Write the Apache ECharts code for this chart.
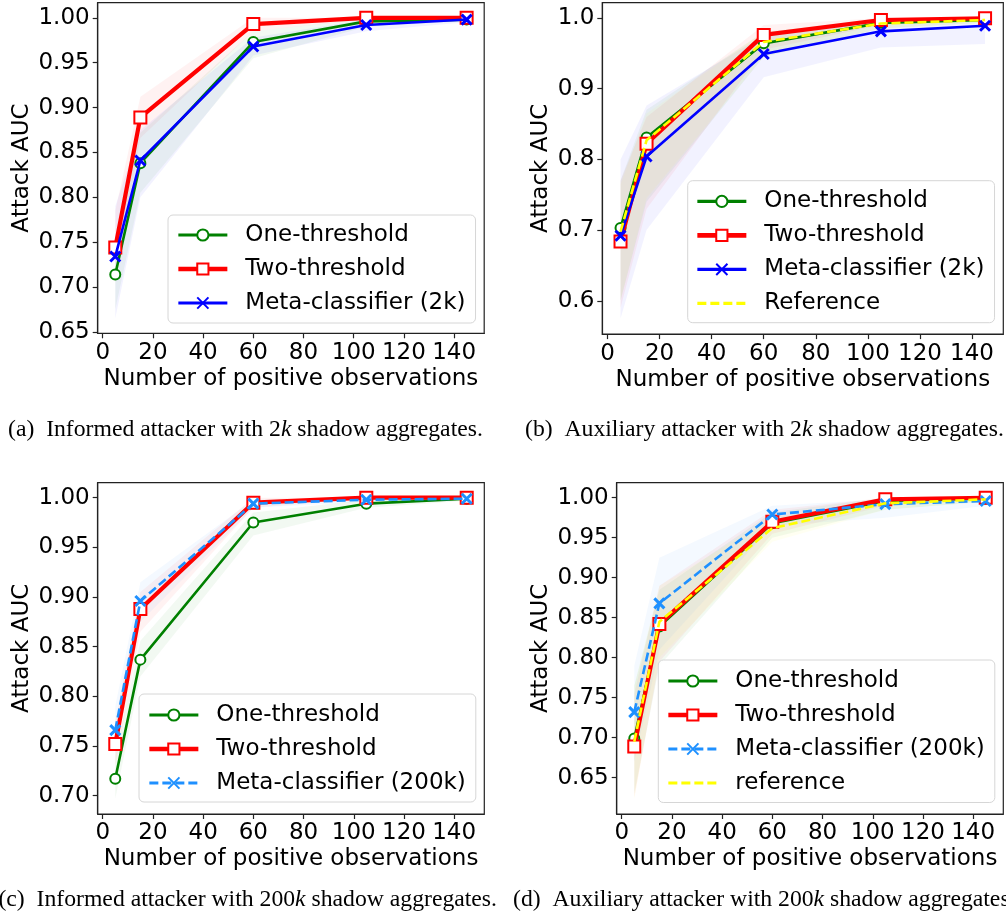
<!DOCTYPE html>
<html><head><meta charset="utf-8">
<script src="https://cdn.jsdelivr.net/npm/echarts@6/dist/echarts.min.js"></script>
<style>html,body{margin:0;padding:0;background:#fff}#c{width:1006px;height:921px}</style>
</head><body><div id="c"></div><script>
// ---------- data ----------
const xObs = [5, 15, 60, 105, 145];
const xTickValues = [0, 20, 40, 60, 80, 100, 120, 140];
const yTicks005a = [0.65, 0.70, 0.75, 0.80, 0.85, 0.90, 0.95, 1.00];
const yTicks01b = [0.6, 0.7, 0.8, 0.9, 1.0];
const yTicks005c = [0.70, 0.75, 0.80, 0.85, 0.90, 0.95, 1.00];
const yTicks005d = [0.65, 0.70, 0.75, 0.80, 0.85, 0.90, 0.95, 1.00];

// (a) informed, 2k
const aOne = [0.714, 0.838, 0.973, 0.996, 0.998];
const aOneLo = [0.675, 0.805, 0.955, 0.990, 0.996];
const aOneHi = [0.755, 0.872, 0.985, 0.999, 1.000];
const aTwo = [0.744, 0.889, 0.993, 1.000, 1.000];
const aTwoLo = [0.705, 0.866, 0.985, 0.998, 0.999];
const aTwoHi = [0.785, 0.912, 1.000, 1.000, 1.000];
const aMeta = [0.734, 0.841, 0.968, 0.992, 0.998];
const aMetaLo = [0.665, 0.800, 0.958, 0.985, 0.995];
const aMetaHi = [0.790, 0.875, 0.978, 0.998, 1.000];

// (b) auxiliary, 2k
const bOne = [0.703, 0.831, 0.964, 0.993, 0.997];
const bOneLo = [0.600, 0.740, 0.945, 0.985, 0.993];
const bOneHi = [0.770, 0.870, 0.980, 0.998, 1.000];
const bTwo = [0.684, 0.822, 0.976, 0.997, 0.9995];
const bTwoLo = [0.590, 0.730, 0.955, 0.990, 0.997];
const bTwoHi = [0.770, 0.860, 0.990, 1.000, 1.000];
const bMeta = [0.692, 0.804, 0.949, 0.981, 0.989];
const bMetaLo = [0.575, 0.700, 0.916, 0.958, 0.963];
const bMetaHi = [0.800, 0.876, 0.975, 0.995, 1.000];
const bRef = [0.698, 0.827, 0.966, 0.992, 0.997];
const bRefLo = [0.600, 0.745, 0.945, 0.985, 0.993];
const bRefHi = [0.765, 0.865, 0.980, 0.998, 1.000];

// (c) informed, 200k
const cOne = [0.717, 0.837, 0.975, 0.994, 0.999];
const cOneLo = [0.697, 0.820, 0.962, 0.990, 0.997];
const cOneHi = [0.740, 0.856, 0.985, 0.998, 1.000];
const cTwo = [0.752, 0.888, 0.995, 1.000, 1.000];
const cTwoLo = [0.730, 0.865, 0.990, 0.999, 1.000];
const cTwoHi = [0.775, 0.905, 1.000, 1.000, 1.000];
const cMeta = [0.766, 0.896, 0.994, 0.998, 0.999];
const cMetaLo = [0.740, 0.875, 0.990, 0.996, 0.998];
const cMetaHi = [0.790, 0.915, 0.998, 1.000, 1.000];

// (d) auxiliary, 200k
const dOne = [0.699, 0.839, 0.968, 0.996, 0.999];
const dOneLo = [0.630, 0.790, 0.950, 0.985, 0.995];
const dOneHi = [0.765, 0.885, 0.982, 1.000, 1.000];
const dTwo = [0.689, 0.842, 0.970, 0.998, 1.000];
const dTwoLo = [0.625, 0.795, 0.955, 0.990, 0.998];
const dTwoHi = [0.755, 0.890, 0.985, 1.000, 1.000];
const dMeta = [0.732, 0.868, 0.979, 0.992, 0.996];
const dMetaLo = [0.670, 0.810, 0.965, 0.975, 0.990];
const dMetaHi = [0.790, 0.925, 0.990, 0.998, 1.000];
const dRef = [0.695, 0.845, 0.962, 0.993, 0.998];
const dRefLo = [0.623, 0.800, 0.945, 0.985, 0.995];
const dRefHi = [0.765, 0.890, 0.975, 0.998, 1.000];

const captions = [
  '(a)  Informed attacker with 2{k|k} shadow aggregates.',
  '(b)  Auxiliary attacker with 2{k|k} shadow aggregates.',
  '(c)  Informed attacker with 200{k|k} shadow aggregates.',
  '(d)  Auxiliary attacker with 200{k|k} shadow aggregates.'
];

// ---------- styles ----------
const FONT = 'DejaVu Sans';
const SERIF = 'Liberation Serif';
const XPATH = 'path://M0,0L10,10M0,10L10,0';
const STY = {
  one:  {color: '#008000', width: 2.6, symbol: 'emptyCircle', size: 10, bw: 2.4, type: 'solid'},
  two:  {color: '#ff0000', width: 4.2, symbol: 'emptyRect', size: 12, bw: 2.6, type: 'solid'},
  m2k:  {color: '#0000ff', width: 2.6, symbol: XPATH, size: 10, bw: 3, type: 'solid'},
  m200: {color: '#1e90ff', width: 2.6, symbol: XPATH, size: 10, bw: 3, type: [9, 4]},
  ref:  {color: '#ffff00', width: 2.6, symbol: 'none', size: 0, bw: 0, type: [9, 4]}
};

const panels = [
  {grid: {left: 97.7, top: 2.7, width: 386.5, height: 330.6}, ymin: 0.6485, ymax: 1.0168, yt: yTicks005a, dec: 2, yGap: 64,
   legend: {left: 168, top: 215, padding: [8.5, 10, 8.5, 8]},
   items: [['One-threshold', aOne, aOneLo, aOneHi, 'one'], ['Two-threshold', aTwo, aTwoLo, aTwoHi, 'two'], ['Meta-classifier (2k)', aMeta, aMetaLo, aMetaHi, 'm2k']]},
  {grid: {left: 602.3, top: 2.7, width: 401, height: 331.4}, ymin: 0.5530, ymax: 1.0215, yt: yTicks01b, dec: 1, yGap: 50,
   legend: {left: 687.7, top: 180.7, padding: [9.2, 10, 7.8, 7.3]},
   items: [['One-threshold', bOne, bOneLo, bOneHi, 'one'], ['Two-threshold', bTwo, bTwoLo, bTwoHi, 'two'], ['Meta-classifier (2k)', bMeta, bMetaLo, bMetaHi, 'm2k'], ['Reference', bRef, bRefLo, bRefHi, 'ref']]},
  {grid: {left: 97.7, top: 482.7, width: 386.6, height: 331.3}, ymin: 0.6816, ymax: 1.0151, yt: yTicks005c, dec: 2, yGap: 64,
   legend: {left: 139, top: 694, padding: [9.5, 10, 7.5, 8]},
   items: [['One-threshold', cOne, cOneLo, cOneHi, 'one'], ['Two-threshold', cTwo, cTwoLo, cTwoHi, 'two'], ['Meta-classifier (200k)', cMeta, cMetaLo, cMetaHi, 'm200']]},
  {grid: {left: 616.7, top: 482.7, width: 386.6, height: 331.3}, ymin: 0.6046, ymax: 1.0188, yt: yTicks005d, dec: 2, yGap: 64,
   legend: {left: 658.3, top: 660, padding: [9.5, 10, 8, 7.7]},
   items: [['One-threshold', dOne, dOneLo, dOneHi, 'one'], ['Two-threshold', dTwo, dTwoLo, dTwoHi, 'two'], ['Meta-classifier (200k)', dMeta, dMetaLo, dMetaHi, 'm200'], ['reference', dRef, dRefLo, dRefHi, 'ref']]}
];

const pairs = arr => xObs.map((x, i) => [x, arr[i]]);

const grids = [], xAxes = [], yAxes = [], series = [], legends = [];
panels.forEach((p, pi) => {
  grids.push(Object.assign({show: true, borderColor: '#222', borderWidth: 1.2, backgroundColor: 'transparent'}, p.grid));
  xAxes.push({
    type: 'value', gridIndex: pi, min: -2, max: 152,
    name: 'Number of positive observations', nameLocation: 'middle', nameGap: 34,
    nameTextStyle: {fontSize: 23, fontFamily: FONT, color: '#000'},
    axisLine: {show: true, onZero: false, lineStyle: {color: '#222', width: 1.2}},
    axisTick: {show: true, customValues: xTickValues, length: 5, lineStyle: {color: '#222', width: 1.2}},
    axisLabel: {customValues: xTickValues, fontSize: 23, fontFamily: FONT, color: '#000', margin: 8},
    splitLine: {show: false}
  });
  yAxes.push({
    type: 'value', gridIndex: pi, min: p.ymin, max: p.ymax,
    name: 'Attack AUC', nameLocation: 'middle', nameGap: p.yGap,
    nameTextStyle: {fontSize: 23, fontFamily: FONT, color: '#000'},
    axisLine: {show: true, onZero: false, lineStyle: {color: '#222', width: 1.2}},
    axisTick: {show: true, customValues: p.yt, length: 5, lineStyle: {color: '#222', width: 1.2}},
    axisLabel: {customValues: p.yt, fontSize: 23, fontFamily: FONT, color: '#000', margin: 8,
                formatter: v => Number(v).toFixed(p.dec)},
    splitLine: {show: false}
  });
  // shaded bands (custom polygons through the axis scales)
  p.items.forEach(([name, mean, lo, hi, sk]) => {
    const s = STY[sk];
    series.push({
      type: 'custom', name: 'band-' + pi + '-' + sk, xAxisIndex: pi, yAxisIndex: pi, silent: true, z: 1,
      data: xObs.map((x, i) => [x, lo[i], hi[i]]),
      encode: {x: 0, y: [1, 2]},
      renderItem: (params, api) => {
        if (params.dataIndex !== 0) return null;
        const top = xObs.map((x, i) => api.coord([x, hi[i]]));
        const bot = xObs.map((x, i) => api.coord([x, lo[i]])).reverse();
        return {type: 'polygon', shape: {points: top.concat(bot)}, style: {fill: s.color, opacity: 0.05}};
      }
    });
  });
  // lines
  p.items.forEach(([name, mean, lo, hi, sk], si) => {
    const s = STY[sk];
    series.push({
      type: 'line', name: name, xAxisIndex: pi, yAxisIndex: pi, data: pairs(mean),
      symbol: s.symbol, symbolSize: s.size, showSymbol: s.symbol !== 'none',
      lineStyle: {color: s.color, width: s.width, type: s.type},
      itemStyle: {color: s.color, borderColor: s.color, borderWidth: s.bw},
      z: 3 + si, animation: false
    });
  });
  legends.push(Object.assign({
    orient: 'vertical', itemWidth: 49, itemHeight: 14, itemGap: 11,
    backgroundColor: 'rgba(255,255,255,0.8)', borderColor: '#d6d6d6', borderWidth: 1, borderRadius: 5,
    textStyle: {fontSize: 23, fontFamily: FONT, color: '#000', padding: [0, 0, 0, 13]},
    selectedMode: false,
    data: p.items.map(([name, , , , sk]) => {
      const s = STY[sk];
      const d = {name: name, lineStyle: {width: s.width + 0.5, color: s.color, type: s.type}};
      if (sk === 'ref') d.itemStyle = {opacity: 0};
      return d;
    })
  }, p.legend));
});

const capStyle = (text, x, y, align) => ({
  type: 'text', x: x, y: y, silent: true,
  style: {text: text, fontSize: 23.7, fontFamily: SERIF, fill: '#000', align: align, verticalAlign: 'middle',
          rich: {k: {fontSize: 23.7, fontFamily: SERIF, fontStyle: 'italic', fill: '#000'}}}
});

const chart = echarts.init(document.getElementById('c'), null, {renderer: 'canvas'});
chart.setOption({
  animation: false,
  backgroundColor: '#fff',
  grid: grids, xAxis: xAxes, yAxis: yAxes, series: series, legend: legends,
  graphic: [
    capStyle(captions[0], 8, 430, 'left'),
    capStyle(captions[1], 525, 430, 'left'),
    capStyle(captions[2], 497, 900, 'right'),
    capStyle(captions[3], 513, 900, 'left')
  ]
});
</script></body></html>
